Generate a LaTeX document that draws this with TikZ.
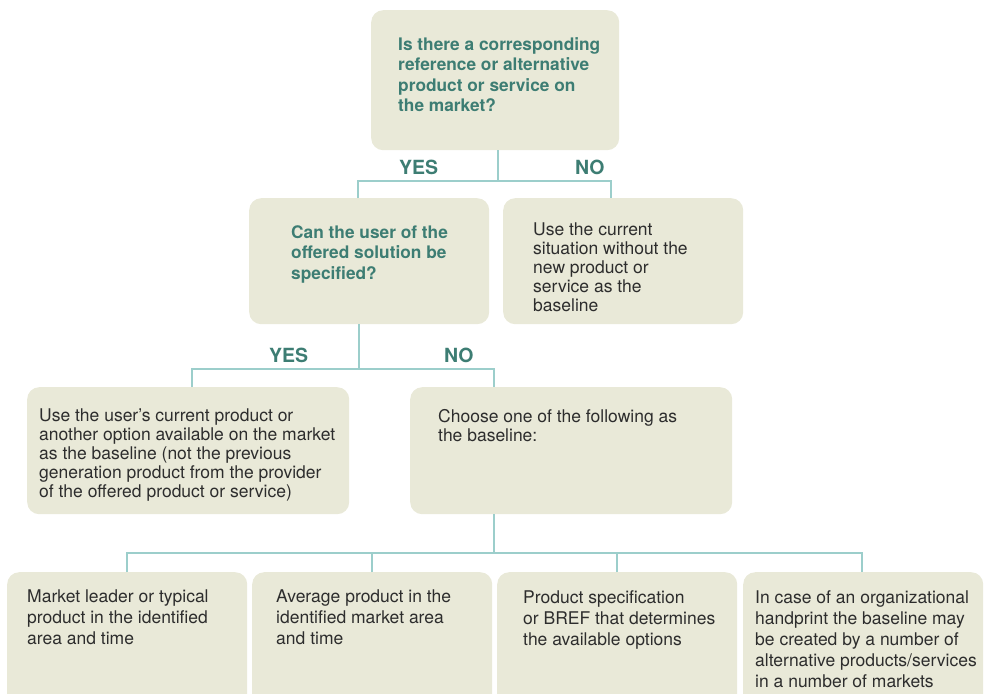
\documentclass[tikz,border=0pt]{standalone}
\usepackage{fontspec}
\setmainfont{TeX Gyre Heros}
\definecolor{boxfill}{RGB}{233,233,216}
\definecolor{qteal}{RGB}{61,125,115}
\definecolor{connc}{RGB}{156,206,203}
\definecolor{bodytext}{RGB}{45,45,45}
\begin{document}
\begin{tikzpicture}[x=1pt,y=-1pt,
 box/.style={fill=boxfill, rounded corners=12pt, inner sep=0pt, anchor=north west},
 link/.style={draw=connc, line width=2.5pt},
 qtext/.style={anchor=north west, inner sep=0pt, align=left, text=qteal, font=\fontsize{17.3}{20.5}\selectfont\bfseries},
 btext/.style={anchor=north west, inner sep=0pt, align=left, text=bodytext, font=\fontsize{17.5}{19}\selectfont},
 ctext/.style={anchor=north west, inner sep=0pt, align=left, text=bodytext, font=\fontsize{17.5}{21}\selectfont},
 yn/.style={anchor=base west, inner sep=0pt, text=qteal, font=\fontsize{19.5}{20}\selectfont\bfseries}]
\useasboundingbox (0,0) rectangle (987,693);
\clip (0,0) rectangle (987,693);
% boxes
\node[box, minimum width=248pt, minimum height=140pt] (q1) at (371,10) {};
\node[box, minimum width=240pt, minimum height=126pt] (q2) at (249,198) {};
\node[box, minimum width=240pt, minimum height=126pt] (q3) at (503,198) {};
\node[box, minimum width=322pt, minimum height=127pt] (q4) at (27,387) {};
\node[box, minimum width=322pt, minimum height=127pt] (q5) at (410,387) {};
\node[box, minimum width=240pt, minimum height=140pt] (o1) at (7,572) {};
\node[box, minimum width=240pt, minimum height=140pt] (o2) at (252,572) {};
\node[box, minimum width=240pt, minimum height=140pt] (o3) at (497,572) {};
\node[box, minimum width=240pt, minimum height=140pt] (o4) at (743,572) {};
% junction coordinates
\coordinate (j1) at (498,181);
\coordinate (a2) at (358,198);
\coordinate (a3) at (611,198);
\coordinate (j2) at (359,369);
\coordinate (a4) at (192,387);
\coordinate (a5) at (494,387);
\coordinate (j3) at (494,553);
\coordinate (b1) at (127,572);
\coordinate (b2) at (372,572);
\coordinate (b3) at (617,572);
\coordinate (b4) at (862,572);
% connectors
\draw[link] (j1 |- q1.south) -- (j1);
\draw[link] (a2) |- (j1) -| (a3);
\draw[link] (j2 |- q2.south) -- (j2);
\draw[link] (a4) |- (j2) -| (a5);
\draw[link] (j3 |- q5.south) -- (j3);
\draw[link] (b1) |- (j3) -| (b4);
\draw[link] (b2) -- (b2 |- j3);
\draw[link] (b3) -- (b3 |- j3);
% texts
\node[qtext] (t1) at (398,37) {Is there a corresponding\\reference or alternative\\product or service on\\the market?};
\node[yn] (y1) at (399,174) {YES};
\node[yn] (n1) at (575,174) {NO};
\node[qtext] (t2) at (291,225) {Can the user of the\\offered solution be\\specified?};
\node[btext] (t3) at (533,223) {Use the current\\situation without the\\new product or\\service as the\\baseline};
\node[yn] (y2) at (269,362) {YES};
\node[yn] (n2) at (444,362) {NO};
\node[btext] (t4) at (39,409) {Use the user’s current product or\\another option available on the market\\as the baseline (not the previous\\generation product from the provider\\of the offered product or service)};
\node[btext] (t5) at (438,409) {Choose one of the following as\\the baseline:};
\node[ctext] (u1) at (27,590) {Market leader or typical\\product in the identified\\area and time};
\node[ctext] (u2) at (276,590) {Average product in the\\identified market area\\and time};
\node[ctext] (u3) at (523,590) {Product specification\\or BREF that determines\\the available options};
\node[ctext] (u4) at (755,590) {In case of an organizational\\handprint the baseline may\\be created by a number of\\alternative products/services\\in a number of markets};
\end{tikzpicture}
\end{document}
